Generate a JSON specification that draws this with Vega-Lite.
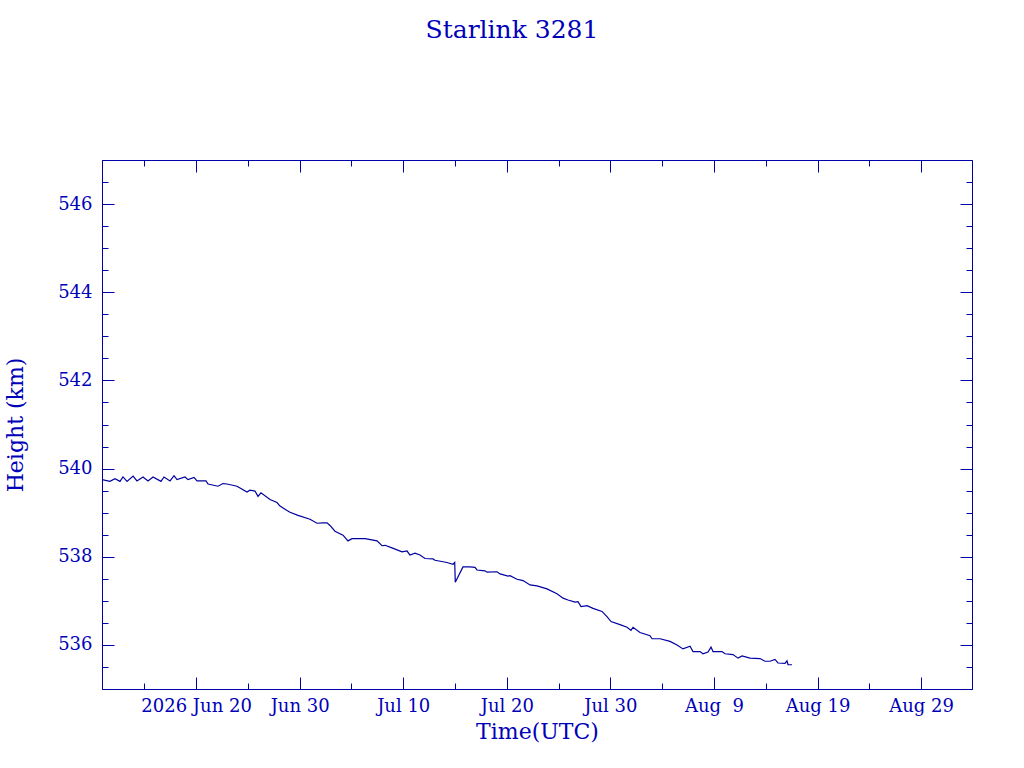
{
  "$schema": "https://vega.github.io/schema/vega-lite/v6.json",
  "width": 870,
  "height": 529,
  "autosize": "none",
  "padding": {"left": 102, "top": 160, "right": 52, "bottom": 79},
  "background": "white",
  "title": {
    "text": "Starlink 3281",
    "font": "DejaVu Serif",
    "fontSize": 25,
    "fontWeight": "normal",
    "color": "#0000b8",
    "anchor": "middle",
    "dx": -25,
    "offset": 117
  },
  "config": {
    "view": {"stroke": "#0000a8", "strokeWidth": 1},
    "axis": {
      "grid": false,
      "domainColor": "#0000a8",
      "tickColor": "#0000a8",
      "labelColor": "#0000b8",
      "titleColor": "#0000b8",
      "labelFont": "DejaVu Serif",
      "titleFont": "DejaVu Serif",
      "labelFontSize": 18,
      "titleFontSize": 22,
      "titleFontWeight": "normal"
    }
  },
  "data": {
    "values": [
      {"t": "2026-06-10T22:00Z", "h": 539.75},
      {"t": "2026-06-11T16:30Z", "h": 539.71},
      {"t": "2026-06-12T04:00Z", "h": 539.77},
      {"t": "2026-06-12T15:40Z", "h": 539.71},
      {"t": "2026-06-12T22:40Z", "h": 539.81},
      {"t": "2026-06-13T08:00Z", "h": 539.71},
      {"t": "2026-06-13T22:00Z", "h": 539.83},
      {"t": "2026-06-14T07:00Z", "h": 539.72},
      {"t": "2026-06-14T21:00Z", "h": 539.81},
      {"t": "2026-06-15T08:40Z", "h": 539.72},
      {"t": "2026-06-15T20:10Z", "h": 539.81},
      {"t": "2026-06-16T14:40Z", "h": 539.71},
      {"t": "2026-06-16T21:40Z", "h": 539.81},
      {"t": "2026-06-17T11:40Z", "h": 539.72},
      {"t": "2026-06-17T20:50Z", "h": 539.84},
      {"t": "2026-06-18T03:50Z", "h": 539.75},
      {"t": "2026-06-18T22:20Z", "h": 539.81},
      {"t": "2026-06-19T05:20Z", "h": 539.75},
      {"t": "2026-06-19T19:10Z", "h": 539.80},
      {"t": "2026-06-20T02:10Z", "h": 539.72},
      {"t": "2026-06-20T23:00Z", "h": 539.72},
      {"t": "2026-06-21T03:40Z", "h": 539.65},
      {"t": "2026-06-22T02:50Z", "h": 539.60},
      {"t": "2026-06-22T14:20Z", "h": 539.66},
      {"t": "2026-06-22T23:40Z", "h": 539.65},
      {"t": "2026-06-23T22:50Z", "h": 539.60},
      {"t": "2026-06-24T05:50Z", "h": 539.56},
      {"t": "2026-06-24T22:00Z", "h": 539.47},
      {"t": "2026-06-25T05:00Z", "h": 539.51},
      {"t": "2026-06-25T16:30Z", "h": 539.49},
      {"t": "2026-06-25T23:30Z", "h": 539.37},
      {"t": "2026-06-26T06:20Z", "h": 539.45},
      {"t": "2026-06-27T03:20Z", "h": 539.30},
      {"t": "2026-06-27T19:30Z", "h": 539.23},
      {"t": "2026-06-28T02:30Z", "h": 539.15},
      {"t": "2026-06-28T18:40Z", "h": 539.05},
      {"t": "2026-06-29T01:40Z", "h": 539.01},
      {"t": "2026-06-29T20:10Z", "h": 538.94},
      {"t": "2026-07-01T00:00Z", "h": 538.85},
      {"t": "2026-07-01T16:10Z", "h": 538.76},
      {"t": "2026-07-02T06:10Z", "h": 538.77},
      {"t": "2026-07-02T15:20Z", "h": 538.77},
      {"t": "2026-07-02T22:20Z", "h": 538.71},
      {"t": "2026-07-03T09:50Z", "h": 538.58},
      {"t": "2026-07-04T04:30Z", "h": 538.49},
      {"t": "2026-07-04T16:00Z", "h": 538.36},
      {"t": "2026-07-05T01:20Z", "h": 538.41},
      {"t": "2026-07-06T07:30Z", "h": 538.41},
      {"t": "2026-07-07T11:20Z", "h": 538.36},
      {"t": "2026-07-07T22:50Z", "h": 538.25},
      {"t": "2026-07-08T05:50Z", "h": 538.26},
      {"t": "2026-07-08T22:00Z", "h": 538.20},
      {"t": "2026-07-09T21:10Z", "h": 538.11},
      {"t": "2026-07-10T08:50Z", "h": 538.13},
      {"t": "2026-07-10T15:40Z", "h": 538.04},
      {"t": "2026-07-11T03:20Z", "h": 538.08},
      {"t": "2026-07-11T14:50Z", "h": 538.04},
      {"t": "2026-07-12T02:30Z", "h": 537.96},
      {"t": "2026-07-12T21:00Z", "h": 537.95},
      {"t": "2026-07-13T01:40Z", "h": 537.92},
      {"t": "2026-07-14T05:30Z", "h": 537.87},
      {"t": "2026-07-14T19:20Z", "h": 537.83},
      {"t": "2026-07-14T23:20Z", "h": 537.87},
      {"t": "2026-07-15T00:40Z", "h": 537.42},
      {"t": "2026-07-15T18:30Z", "h": 537.77},
      {"t": "2026-07-16T10:50Z", "h": 537.77},
      {"t": "2026-07-16T22:20Z", "h": 537.76},
      {"t": "2026-07-17T03:00Z", "h": 537.70},
      {"t": "2026-07-17T21:30Z", "h": 537.68},
      {"t": "2026-07-18T02:10Z", "h": 537.65},
      {"t": "2026-07-19T01:20Z", "h": 537.66},
      {"t": "2026-07-19T08:20Z", "h": 537.61},
      {"t": "2026-07-20T02:50Z", "h": 537.56},
      {"t": "2026-07-20T07:30Z", "h": 537.57},
      {"t": "2026-07-20T23:40Z", "h": 537.49},
      {"t": "2026-07-21T13:40Z", "h": 537.46},
      {"t": "2026-07-22T05:50Z", "h": 537.36},
      {"t": "2026-07-22T22:00Z", "h": 537.34},
      {"t": "2026-07-23T21:10Z", "h": 537.27},
      {"t": "2026-07-24T20:20Z", "h": 537.16},
      {"t": "2026-07-25T10:20Z", "h": 537.06},
      {"t": "2026-07-25T21:50Z", "h": 537.02},
      {"t": "2026-07-26T14:10Z", "h": 536.97},
      {"t": "2026-07-26T21:00Z", "h": 536.98},
      {"t": "2026-07-27T04:00Z", "h": 536.87},
      {"t": "2026-07-27T17:50Z", "h": 536.89},
      {"t": "2026-07-28T07:50Z", "h": 536.83},
      {"t": "2026-07-29T04:40Z", "h": 536.76},
      {"t": "2026-07-29T16:10Z", "h": 536.64},
      {"t": "2026-07-30T01:30Z", "h": 536.53},
      {"t": "2026-07-30T22:20Z", "h": 536.46},
      {"t": "2026-07-31T14:40Z", "h": 536.40},
      {"t": "2026-07-31T23:50Z", "h": 536.33},
      {"t": "2026-08-01T04:30Z", "h": 536.40},
      {"t": "2026-08-01T20:40Z", "h": 536.28},
      {"t": "2026-08-02T19:50Z", "h": 536.21},
      {"t": "2026-08-03T00:30Z", "h": 536.14},
      {"t": "2026-08-03T19:10Z", "h": 536.14},
      {"t": "2026-08-04T18:10Z", "h": 536.08},
      {"t": "2026-08-05T10:30Z", "h": 536.00},
      {"t": "2026-08-06T00:20Z", "h": 535.91},
      {"t": "2026-08-06T16:40Z", "h": 535.97},
      {"t": "2026-08-06T23:30Z", "h": 535.85},
      {"t": "2026-08-07T15:40Z", "h": 535.85},
      {"t": "2026-08-07T22:40Z", "h": 535.80},
      {"t": "2026-08-08T10:20Z", "h": 535.84},
      {"t": "2026-08-08T17:10Z", "h": 535.95},
      {"t": "2026-08-08T21:50Z", "h": 535.85},
      {"t": "2026-08-09T18:40Z", "h": 535.85},
      {"t": "2026-08-10T01:40Z", "h": 535.80},
      {"t": "2026-08-10T20:10Z", "h": 535.78},
      {"t": "2026-08-11T07:50Z", "h": 535.70},
      {"t": "2026-08-11T17:10Z", "h": 535.75},
      {"t": "2026-08-12T11:40Z", "h": 535.70},
      {"t": "2026-08-13T10:50Z", "h": 535.69},
      {"t": "2026-08-13T22:20Z", "h": 535.63},
      {"t": "2026-08-14T10:00Z", "h": 535.63},
      {"t": "2026-08-14T21:30Z", "h": 535.67},
      {"t": "2026-08-15T04:30Z", "h": 535.59},
      {"t": "2026-08-15T20:40Z", "h": 535.58},
      {"t": "2026-08-16T01:20Z", "h": 535.64},
      {"t": "2026-08-16T03:40Z", "h": 535.55},
      {"t": "2026-08-16T12:50Z", "h": 535.55}
    ]
  },
  "layer": [
    {
      "mark": {"type": "line", "color": "#0000a0", "strokeWidth": 1.2, "clip": true},
      "encoding": {
        "x": {
          "field": "t",
          "type": "temporal",
          "scale": {
            "type": "utc",
            "domain": [
              {"year": 2026, "month": 6, "date": 10, "hours": 22, "utc": true},
              {"year": 2026, "month": 9, "date": 2, "hours": 22, "utc": true}
            ]
          },
          "axis": {
            "orient": "bottom",
            "title": "Time(UTC)",
            "titleY": 49,
            "titleBaseline": "alphabetic",
            "values": [
              {"year": 2026, "month": 6, "date": 15, "utc": true},
              {"year": 2026, "month": 6, "date": 20, "utc": true},
              {"year": 2026, "month": 6, "date": 25, "utc": true},
              {"year": 2026, "month": 6, "date": 30, "utc": true},
              {"year": 2026, "month": 7, "date": 5, "utc": true},
              {"year": 2026, "month": 7, "date": 10, "utc": true},
              {"year": 2026, "month": 7, "date": 15, "utc": true},
              {"year": 2026, "month": 7, "date": 20, "utc": true},
              {"year": 2026, "month": 7, "date": 25, "utc": true},
              {"year": 2026, "month": 7, "date": 30, "utc": true},
              {"year": 2026, "month": 8, "date": 4, "utc": true},
              {"year": 2026, "month": 8, "date": 9, "utc": true},
              {"year": 2026, "month": 8, "date": 14, "utc": true},
              {"year": 2026, "month": 8, "date": 19, "utc": true},
              {"year": 2026, "month": 8, "date": 24, "utc": true},
              {"year": 2026, "month": 8, "date": 29, "utc": true}
            ],
            "tickSize": {"condition": {"test": "round((datum.value - utc(2026,5,20))/864e5) % 10 === 0", "value": -12}, "value": -6},
            "labelPadding": 20,
            "labelFlush": false,
            "labelOverlap": false,
            "labelExpr": "round((datum.value - utc(2026,5,20))/864e5) % 10 !== 0 ? '' : ((utcdate(datum.value) === 20 && utcmonth(datum.value) === 5) ? '2026 ' : '') + utcFormat(datum.value, '%b') + (utcdate(datum.value) < 10 ? '\u00a0\u00a0' : ' ') + utcdate(datum.value)"
          }
        },
        "y": {
          "field": "h",
          "type": "quantitative",
          "scale": {"domain": [535, 547], "nice": false, "zero": false},
          "axis": {
            "orient": "left",
            "title": "Height (km)",
            "titleX": -87,
            "titleBaseline": "middle",
            "values": [535.5, 536, 536.5, 537, 537.5, 538, 538.5, 539, 539.5, 540, 540.5, 541, 541.5, 542, 542.5, 543, 543.5, 544, 544.5, 545, 545.5, 546, 546.5],
            "tickSize": {"condition": {"test": "datum.value % 2 === 0", "value": -12}, "value": -6},
            "labelPadding": 22,
            "labelOverlap": false,
            "labelExpr": "datum.value % 2 === 0 ? format(datum.value, 'd') : ''"
          }
        }
      }
    },
    {
      "mark": {"type": "line", "strokeOpacity": 0},
      "encoding": {
        "x": {
          "field": "t",
          "type": "temporal",
          "axis": {
            "orient": "top",
            "title": null,
            "labels": false,
            "values": [
              {"year": 2026, "month": 6, "date": 15, "utc": true},
              {"year": 2026, "month": 6, "date": 20, "utc": true},
              {"year": 2026, "month": 6, "date": 25, "utc": true},
              {"year": 2026, "month": 6, "date": 30, "utc": true},
              {"year": 2026, "month": 7, "date": 5, "utc": true},
              {"year": 2026, "month": 7, "date": 10, "utc": true},
              {"year": 2026, "month": 7, "date": 15, "utc": true},
              {"year": 2026, "month": 7, "date": 20, "utc": true},
              {"year": 2026, "month": 7, "date": 25, "utc": true},
              {"year": 2026, "month": 7, "date": 30, "utc": true},
              {"year": 2026, "month": 8, "date": 4, "utc": true},
              {"year": 2026, "month": 8, "date": 9, "utc": true},
              {"year": 2026, "month": 8, "date": 14, "utc": true},
              {"year": 2026, "month": 8, "date": 19, "utc": true},
              {"year": 2026, "month": 8, "date": 24, "utc": true},
              {"year": 2026, "month": 8, "date": 29, "utc": true}
            ],
            "tickSize": {"condition": {"test": "round((datum.value - utc(2026,5,20))/864e5) % 10 === 0", "value": -12}, "value": -6}
          }
        },
        "y": {
          "field": "h",
          "type": "quantitative",
          "axis": {
            "orient": "right",
            "title": null,
            "labels": false,
            "values": [535.5, 536, 536.5, 537, 537.5, 538, 538.5, 539, 539.5, 540, 540.5, 541, 541.5, 542, 542.5, 543, 543.5, 544, 544.5, 545, 545.5, 546, 546.5],
            "tickSize": {"condition": {"test": "datum.value % 2 === 0", "value": -12}, "value": -6}
          }
        }
      }
    }
  ],
  "resolve": {"axis": {"x": "independent", "y": "independent"}}
}
